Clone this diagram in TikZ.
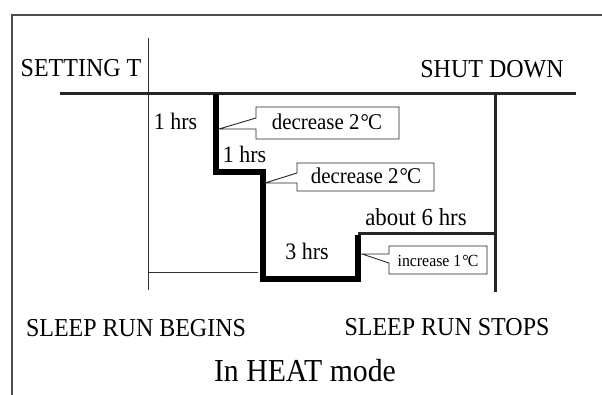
\documentclass[tikz,border=0pt]{standalone}
\usepackage{fontspec}
\setmainfont{Liberation Serif}[FakeStretch=0.93]
\newcommand{\degC}{\kern1pt°\kern-0.8pt C}
\begin{document}
\begin{tikzpicture}[x=1pt,y=-1pt,
  framel/.style={draw=black!70,line width=2pt},
  thinl/.style={draw=black!80,line width=0.9pt},
  axisl/.style={draw=black!85,line width=3pt},
  stepl/.style={draw=black,line width=6pt},
  cbox/.style={draw=black!85,line width=0.9pt,fill=white,line join=miter},
  lbl/.style={anchor=base,inner sep=0pt,font=\fontsize{25.8}{27}\selectfont},
  hrs/.style={anchor=base,inner sep=0pt,font=\fontsize{23.6}{25}\selectfont},
  btxt/.style={anchor=base,inner sep=0pt,font=\fontsize{22.5}{24}\selectfont}
]
\useasboundingbox (0,0) rectangle (602,395);
\fill[white] (0,0) rectangle (602,395);
% frame
\draw[framel] (12,400) -- (12,15) -- (610,15);
% coordinates
\coordinate (vtop) at (148,38);
\coordinate (vbot) at (148,290);
\coordinate (hl) at (60,94);
\coordinate (hr) at (576,94);
\coordinate (rtop) at (495,94);
\coordinate (rbot) at (495,292);
\coordinate (s0) at (216,94);
\coordinate (s1) at (216,172);
\coordinate (s2) at (263,172);
\coordinate (s3) at (263,279);
\coordinate (s4) at (358,279);
\coordinate (s5) at (358,234);
\coordinate (s6) at (495,234);
\coordinate (bl) at (148,272);
\coordinate (br) at (258,272);
% lines
\draw[thinl] (vtop) -- (vbot);
\draw[thinl] (bl) -- (br);
\draw[axisl] (hl) -- (hr);
\draw[axisl] (rtop) -- (rbot);
\draw[draw=black!85,line width=3pt] (s5) -- (s6);
\draw[stepl,line join=miter] (s0) -- (s1) -- (s2) -- (s3) -- (s4) -- ([yshift=-1.5pt]s5);
% callout 1
\coordinate (t1) at (219,129);
\draw[cbox] (256,118) -- (256,107) -- (399,107) -- (399,139) -- (256,139) -- (256,129) -- (t1) -- cycle;
\node[btxt] (c1) at (327,130) {decrease 2\degC};
% callout 2
\coordinate (t2) at (265,183);
\draw[cbox] (297,173) -- (297,163) -- (434,163) -- (434,191) -- (297,191) -- (297,183) -- (t2) -- cycle;
\node[btxt] (c2) at (366,184) {decrease 2\degC};
% callout 3
\coordinate (t3) at (362,254);
\draw[cbox] (389,254) -- (389,246) -- (487,246) -- (487,274) -- (389,274) -- (389,263) -- (t3) -- cycle;
\node[anchor=base,inner sep=0pt,font=\fontsize{17}{19}\selectfont] (c3) at (438,266) {increase 1\degC};
% labels
\node[lbl] (set) at (81,77) {SETTING T};
\node[lbl] (shut) at (492,78) {SHUT DOWN};
\node[lbl] (beg) at (136,336) {SLEEP RUN BEGINS};
\node[lbl] (stop) at (447,335) {SLEEP RUN STOPS};
\node[anchor=base,inner sep=0pt,font=\fontsize{32}{34}\selectfont] (mode) at (305,381) {In HEAT mode};
\node[hrs] (h1) at (175.5,130) {1 hrs};
\node[hrs] (h2) at (244.5,163) {1 hrs};
\node[hrs] (h3) at (307,260) {3 hrs};
\node[hrs,font=\fontsize{24.5}{26}\selectfont] (h6) at (416,226) {about 6 hrs};
\end{tikzpicture}
\end{document}
